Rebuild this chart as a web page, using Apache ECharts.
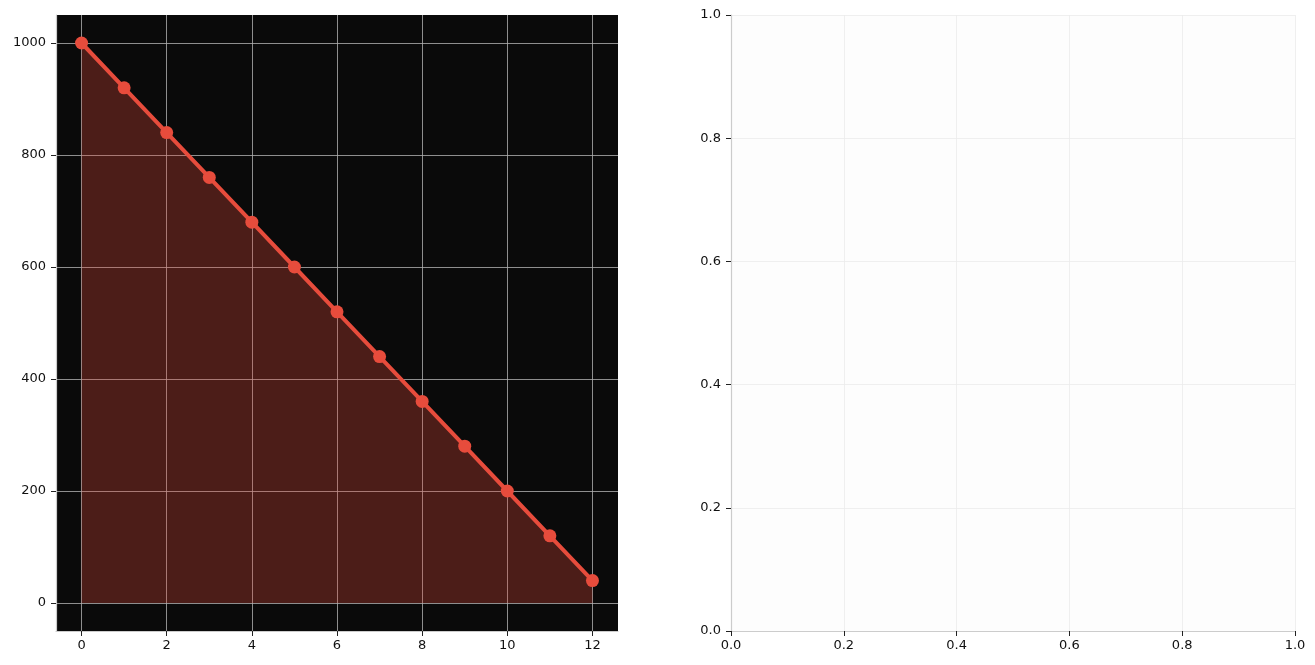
<!DOCTYPE html>
<html>
<head>
<meta charset="utf-8">
<script src="https://cdn.jsdelivr.net/npm/echarts@6/dist/echarts.min.js"></script>
<style>html,body{margin:0;padding:0;background:#fff;}#c{width:1315px;height:665px;}</style>
</head>
<body>
<div id="c"></div>
<script>
const xValues = [0,1,2,3,4,5,6,7,8,9,10,11,12];
const yValues = [1000,920,840,760,680,600,520,440,360,280,200,120,40];
const leftXTicks = [0,2,4,6,8,10,12];
const leftYTicks = [0,200,400,600,800,1000];
const rightTicks = [0,0.2,0.4,0.6,0.8,1.0];

const chart = echarts.init(document.getElementById('c'), null, {renderer:'canvas'});
const labelStyle = {color:'#111', fontSize:13, fontFamily:'DejaVu Sans'};
const tickStyle = {show:true, length:5, lineStyle:{color:'#222', width:1}};
const option = {
  animation:false,
  grid:[
    {left:56, top:15, width:562, height:616, show:true, backgroundColor:'#0a0a0a', borderWidth:0},
    {left:731, top:15, width:564, height:616, show:true, backgroundColor:'#fdfdfd', borderWidth:0}
  ],
  xAxis:[
    {type:'value', gridIndex:0, min:-0.6, max:12.6,
     axisLine:{show:true, onZero:false, lineStyle:{color:'#cccccc', width:1.2}},
     axisTick:Object.assign({customValues:leftXTicks}, tickStyle),
     axisLabel:Object.assign({customValues:leftXTicks, margin:8, formatter:v=>String(v)}, labelStyle),
     splitLine:{show:true, lineStyle:{color:'#b0b0b0', width:0.8}}},
    {type:'value', gridIndex:1, min:0, max:1, interval:0.2,
     axisLine:{show:true, onZero:false, lineStyle:{color:'#cccccc', width:1.2}},
     axisTick:Object.assign({customValues:rightTicks}, tickStyle),
     axisLabel:Object.assign({customValues:rightTicks, margin:8, formatter:v=>v.toFixed(1)}, labelStyle),
     splitLine:{show:true, lineStyle:{color:'#ebebeb', width:0.8}}}
  ],
  yAxis:[
    {type:'value', gridIndex:0, min:-50, max:1050,
     axisLine:{show:true, onZero:false, lineStyle:{color:'#cccccc', width:1.2}},
     axisTick:Object.assign({customValues:leftYTicks}, tickStyle),
     axisLabel:Object.assign({customValues:leftYTicks, margin:10, formatter:v=>String(v)}, labelStyle),
     splitLine:{show:true, lineStyle:{color:'#b0b0b0', width:0.8}}},
    {type:'value', gridIndex:1, min:0, max:1, interval:0.2,
     axisLine:{show:true, onZero:false, lineStyle:{color:'#cccccc', width:1.2}},
     axisTick:Object.assign({customValues:rightTicks}, tickStyle),
     axisLabel:Object.assign({customValues:rightTicks, margin:10, formatter:v=>v.toFixed(1)}, labelStyle),
     splitLine:{show:true, lineStyle:{color:'#ebebeb', width:0.8}}}
  ],
  series:[
    {type:'line', xAxisIndex:0, yAxisIndex:0,
     data:xValues.map((x,i)=>[x, yValues[i]]),
     symbol:'circle', symbolSize:13, showAllSymbol:true,
     lineStyle:{color:'#e74c3c', width:4},
     itemStyle:{color:'#e74c3c'},
     areaStyle:{color:'#e74c3c', opacity:0.3, origin:'auto'},
     z:3}
  ]
};
chart.setOption(option);
</script>
</body>
</html>
